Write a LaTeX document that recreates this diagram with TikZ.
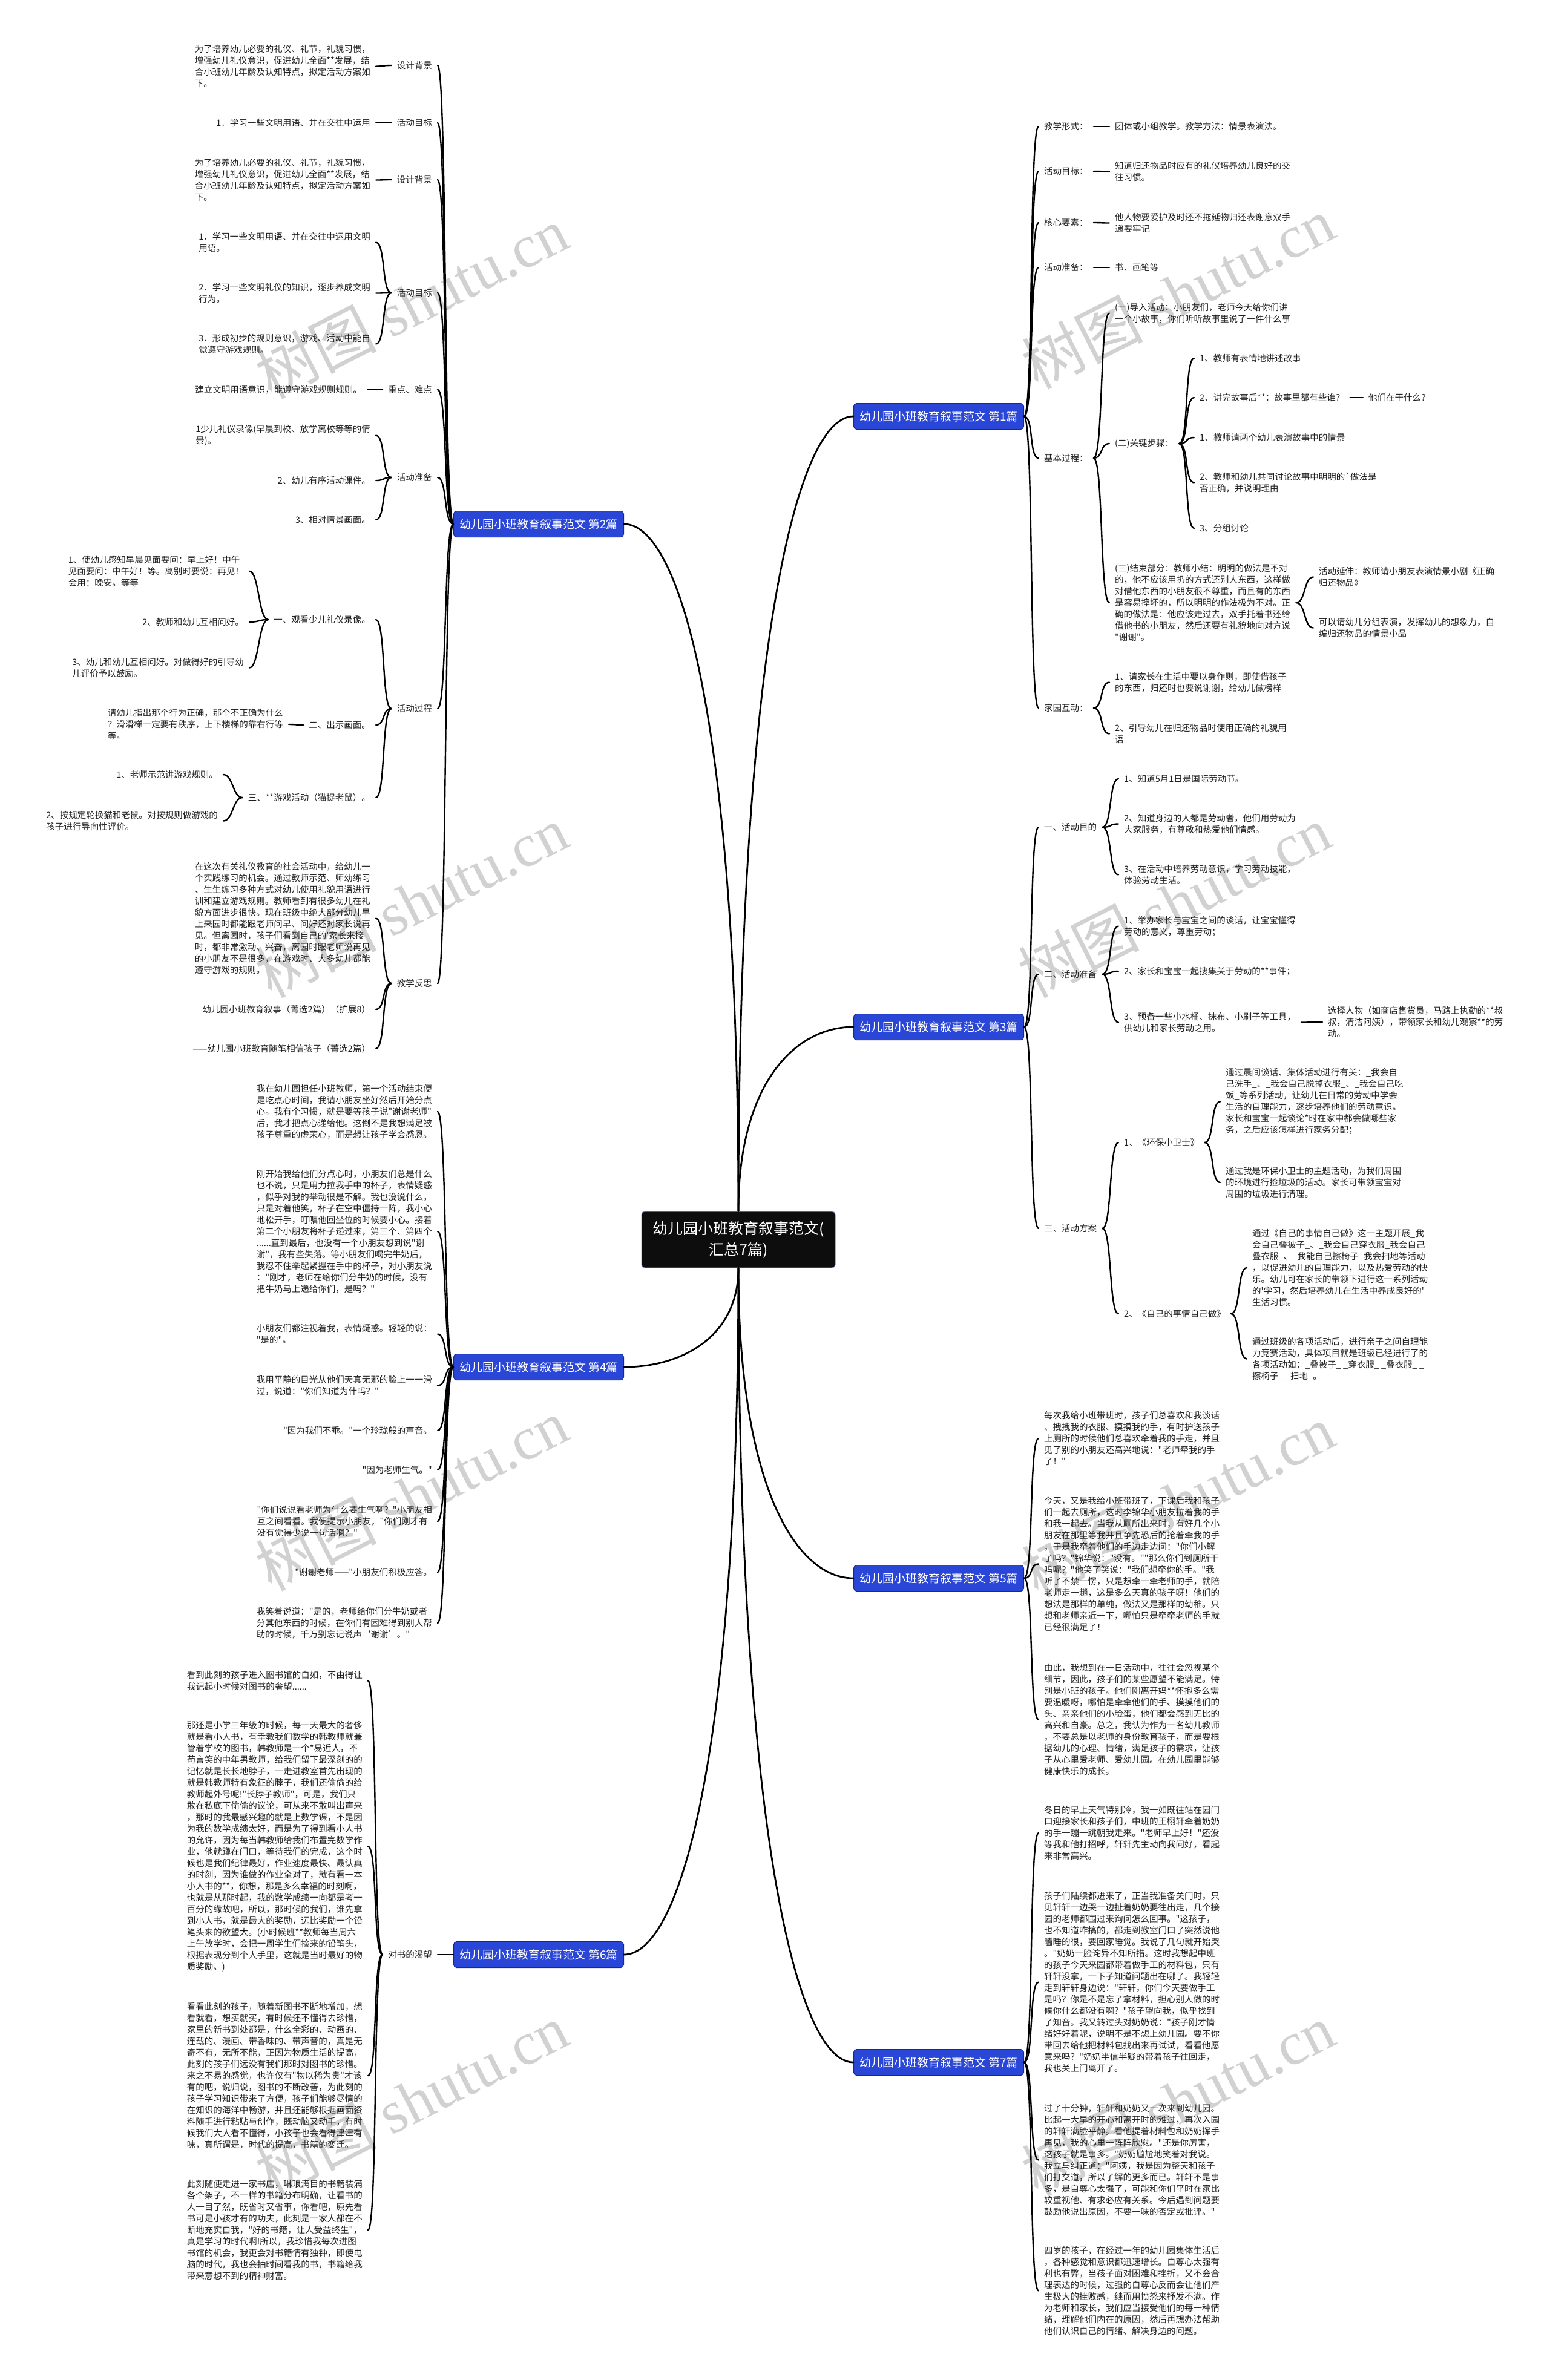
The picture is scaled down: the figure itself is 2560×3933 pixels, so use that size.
\documentclass[tikz,border=0pt]{standalone}
\usepackage{fontspec}
\usetikzlibrary{calc}
\newfontfamily\cjkf{Noto Sans CJK SC}
\newfontfamily\wmlatin{Liberation Serif}
\definecolor{boxblue}{HTML}{2A46D6}
\newcommand\lcon[2]{\draw[lk] (#1.west) .. controls +(-16,0) and +(16,0) .. (#2.east);}
\newcommand\rcon[2]{\draw[lk] (#1.east) .. controls +(16,0) and +(-16,0) .. (#2.west);}
\newcommand\rootcon[2]{\draw[lk, line width=2.8pt] (#1) .. controls ($(#1)!0.7!(#1 |- #2)$) and ($(#2)!0.5!(#1 |- #2)$) .. (#2);}
\begin{document}
\begin{tikzpicture}[x=1pt,y=-1pt,
  txt/.style={font={\cjkf\fontsize{14.5}{19}\selectfont}, align=left, inner xsep=9pt, inner ysep=0pt, text=black!88},
  lt/.style={txt, anchor=east},
  rt/.style={txt, anchor=west},
  box/.style={fill=boxblue, draw=boxblue!60!black, line width=1pt, rounded corners=5pt, text=white, font={\cjkf\fontsize{19}{22}\selectfont}, minimum width=281pt, minimum height=43pt, inner sep=0pt},
  root/.style={fill=black!95, draw=boxblue!60!white, line width=1pt, rounded corners=5pt, text=white, font={\cjkf\fontsize{25}{35}\selectfont}, align=center, minimum width=320pt, minimum height=93pt, inner sep=0pt},
  lk/.style={line width=2.4pt, line cap=round, black},
  wm/.style={text=black!18, font={\cjkf\fontsize{100}{100}\selectfont}, rotate=27, inner sep=0pt}
]
\useasboundingbox (0,0) rectangle (2560,3933);
\fill[white] (0,0) rectangle (2560,3933);

% watermarks
\foreach \i/\wx/\wy in {1/680/500,2/1946/484,3/680/1490,4/1940/1490,5/680/2470,6/1946/2480,7/680/3470,8/1946/3470}
  \node[wm] (wm\i) at (\wx,\wy) {树图 {\wmlatin shutu.cn}};

% root and branches
\node[root] (rt) at (1220,2048.5) {幼儿园小班教育叙事范文(\\汇总7篇)};
\node[box] (b1) at (1551,688) {幼儿园小班教育叙事范文 第1篇};
\node[box] (b2) at (890,866) {幼儿园小班教育叙事范文 第2篇};
\node[box] (b3) at (1551,1697) {幼儿园小班教育叙事范文 第3篇};
\node[box] (b4) at (890,2259) {幼儿园小班教育叙事范文 第4篇};
\node[box] (b5) at (1551,2608) {幼儿园小班教育叙事范文 第5篇};
\node[box] (b6) at (890,3230) {幼儿园小班教育叙事范文 第6篇};
\node[box] (b7) at (1551,3408) {幼儿园小班教育叙事范文 第7篇};
\rootcon{rt.north}{b1.west}
\rootcon{rt.north}{b2.east}
\rootcon{rt.north}{b3.west}
\rootcon{rt.south}{b4.east}
\rootcon{rt.south}{b5.west}
\rootcon{rt.south}{b6.east}
\rootcon{rt.south}{b7.west}

% ===== 第2篇 =====
\node[lt] (a1) at (723,108) {设计背景};
\node[lt] (a2) at (723,203) {活动目标};
\node[lt] (a3) at (723,297) {设计背景};
\node[lt] (a4) at (723,484) {活动目标};
\node[lt] (a5) at (723,644) {重点、难点};
\node[lt] (a6) at (723,789) {活动准备};
\node[lt] (a7) at (723,1171) {活动过程};
\node[lt] (a8) at (723,1625) {教学反思};
\foreach \n in {a1,a2,a3,a4,a5,a6,a7,a8} {\lcon{b2}{\n}}

\node[lt] (a1c) at (621,109.5) {为了培养幼儿必要的礼仪、礼节，礼貌习惯，\\增强幼儿礼仪意识，促进幼儿全面**发展，结\\合小班幼儿年龄及认知特点，拟定活动方案如\\下。};
\node[lt] (a2c) at (621,203) {1．学习一些文明用语、并在交往中运用};
\node[lt] (a3c) at (621,297.5) {为了培养幼儿必要的礼仪、礼节，礼貌习惯，\\增强幼儿礼仪意识，促进幼儿全面**发展，结\\合小班幼儿年龄及认知特点，拟定活动方案如\\下。};
\node[lt] (a4c1) at (621,400.5) {1．学习一些文明用语、并在交往中运用文明\\用语。};
\node[lt] (a4c2) at (621,484.5) {2．学习一些文明礼仪的知识，逐步养成文明\\行为。};
\node[lt] (a4c3) at (621,568.5) {3．形成初步的规则意识，游戏、活动中能自\\觉遵守游戏规则。};
\node[lt] (a5c) at (607,644) {建立文明用语意识，能遵守游戏规则规则。};
\node[lt] (a6c1) at (621,719.5) {1少儿礼仪录像(早晨到校、放学离校等等的情\\景)。};
\node[lt] (a6c2) at (621,794) {2、幼儿有序活动课件。};
\node[lt] (a6c3) at (621,859) {3、相对情景画面。};
\node[lt] (a7c1) at (621,1024) {一、观看少儿礼仪录像。};
\node[lt] (a7c1a) at (412,944) {1、使幼儿感知早晨见面要问：早上好！中午\\见面要问：中午好！等。离别时要说：再见！\\会用：晚安。等等};
\node[lt] (a7c1b) at (412,1028) {2、教师和幼儿互相问好。};
\node[lt] (a7c1c) at (412,1103.5) {3、幼儿和幼儿互相问好。对做得好的引导幼\\儿评价予以鼓励。};
\node[lt] (a7c2) at (621,1198) {二、出示画面。};
\node[lt] (a7c2a) at (477,1197) {请幼儿指出那个行为正确，那个不正确为什么\\？滑滑梯一定要有秩序，上下楼梯的靠右行等\\等。};
\node[lt] (a7c3) at (621,1318) {三、**游戏活动（猫捉老鼠）。};
\node[lt] (a7c3a) at (369,1280) {1、老师示范讲游戏规则。};
\node[lt] (a7c3b) at (369,1356.5) {2、按规定轮换猫和老鼠。对按规则做游戏的\\孩子进行导向性评价。};
\node[lt] (a8c1) at (621,1517.5) {在这次有关礼仪教育的社会活动中，给幼儿一\\个实践练习的机会。通过教师示范、师幼练习\\、生生练习多种方式对幼儿使用礼貌用语进行\\训和建立游戏规则。教师看到有很多幼儿在礼\\貌方面进步很快。现在班级中绝大部分幼儿早\\上来园时都能跟老师问早、问好还对家长说再\\见。但离园时，孩子们看到自己的'家长来接\\时，都非常激动、兴奋，离园时跟老师说再见\\的小朋友不是很多，在游戏时、大多幼儿都能\\遵守游戏的规则。};
\node[lt] (a8c2) at (621,1668) {幼儿园小班教育叙事（菁选2篇）（扩展8）};
\node[lt] (a8c3) at (621,1733) {——幼儿园小班教育随笔相信孩子（菁选2篇）};

\lcon{a1}{a1c} \lcon{a2}{a2c} \lcon{a3}{a3c}
\lcon{a4}{a4c1} \lcon{a4}{a4c2} \lcon{a4}{a4c3}
\lcon{a5}{a5c}
\lcon{a6}{a6c1} \lcon{a6}{a6c2} \lcon{a6}{a6c3}
\lcon{a7}{a7c1} \lcon{a7}{a7c2} \lcon{a7}{a7c3}
\lcon{a7c1}{a7c1a} \lcon{a7c1}{a7c1b} \lcon{a7c1}{a7c1c}
\lcon{a7c2}{a7c2a}
\lcon{a7c3}{a7c3a} \lcon{a7c3}{a7c3b}
\lcon{a8}{a8c1} \lcon{a8}{a8c2} \lcon{a8}{a8c3}

% ===== 第4篇 =====
\node[lt] (m1) at (723,1837) {我在幼儿园担任小班教师，第一个活动结束便\\是吃点心时间，我请小朋友坐好然后开始分点\\心。我有个习惯，就是要等孩子说"谢谢老师"\\后，我才把点心递给他。这倒不是我想满足被\\孩子尊重的虚荣心，而是想让孩子学会感恩。};
\node[lt] (m2) at (723,2035) {刚开始我给他们分点心时，小朋友们总是什么\\也不说，只是用力拉我手中的杯子，表情疑惑\\，似乎对我的举动很是不解。我也没说什么，\\只是对着他笑，杯子在空中僵持一阵，我小心\\地松开手，叮嘱他回坐位的时候要小心。接着\\第二个小朋友将杯子递过来，第三个、第四个\\......直到最后，也没有一个小朋友想到说"谢\\谢"，我有些失落。等小朋友们喝完牛奶后，\\我忍不住举起紧握在手中的杯子，对小朋友说\\："刚才，老师在给你们分牛奶的时候，没有\\把牛奶马上递给你们，是吗？"};
\node[lt] (m3) at (723,2204.5) {小朋友们都注视着我，表情疑惑。轻轻的说：\\"是的"。};
\node[lt] (m4) at (723,2289.5) {我用平静的目光从他们天真无邪的脸上一一滑\\过，说道："你们知道为什吗？"};
\node[lt] (m5) at (723,2364) {"因为我们不乖。"一个玲珑般的声音。};
\node[lt] (m6) at (723,2429) {"因为老师生气。"};
\node[lt] (m7) at (723,2514) {"你们说说看老师为什么要生气啊？"小朋友相\\互之间看看。我便提示小朋友，"你们刚才有\\没有觉得少说一句话啊？"};
\node[lt] (m8) at (723,2598) {"谢谢老师——"小朋友们积极应答。};
\node[lt] (m9) at (723,2682) {我笑着说道："是的，老师给你们分牛奶或者\\分其他东西的时候，在你们有困难得到别人帮\\助的时候，千万别忘记说声‘谢谢’。"};
\foreach \n in {m1,m2,m3,m4,m5,m6,m7,m8,m9} {\lcon{b4}{\n}}

% ===== 第6篇 =====
\node[lt] (n0) at (723,3230) {对书的渴望};
\lcon{b6}{n0}
\node[lt] (n1) at (608,2777.5) {看到此刻的孩子进入图书馆的自如，不由得让\\我记起小时候对图书的奢望......};
\node[lt] (n2) at (608,3051.5) {那还是小学三年级的时候，每一天最大的奢侈\\就是看小人书，有幸教我们数学的韩教师就兼\\管着学校的图书，韩教师是一个*易近人，不\\苟言笑的中年男教师，给我们留下最深刻的的\\记忆就是长长地脖子，一走进教室首先出现的\\就是韩教师特有象征的脖子，我们还偷偷的给\\教师起外号呢!"长脖子教师"，可是，我们只\\敢在私底下偷偷的议论，可从来不敢叫出声来\\，那时的我最感兴趣的就是上数学课，不是因\\为我的数学成绩太好，而是为了得到看小人书\\的允许，因为每当韩教师给我们布置完数学作\\业，他就蹲在门口，等待我们的完成，这个时\\候也是我们纪律最好，作业速度最快、最认真\\的时刻，因为谁做的作业全对了，就有看一本\\小人书的**，你想，那是多么幸福的时刻啊，\\也就是从那时起，我的数学成绩一向都是考一\\百分的缘故吧，所以，那时候的我们，谁先拿\\到小人书，就是最大的奖励，远比奖励一个铅\\笔头来的欲望大。(小时候班**教师每当周六\\上午放学时，会把一周学生们捡来的铅笔头，\\根据表现分到个人手里，这就是当时最好的物\\质奖励。)};
\node[lt] (n3) at (608,3430) {看看此刻的孩子，随着新图书不断地增加，想\\看就看，想买就买，有时候还不懂得去珍惜，\\家里的新书到处都是，什么全彩的、动画的、\\连载的、漫画、带香味的、带声音的，真是无\\奇不有，无所不能，正因为物质生活的提高，\\此刻的孩子们远没有我们那时对图书的珍惜。\\来之不易的感觉，也许仅有"物以稀为贵"才该\\有的吧，说归说，图书的不断改善，为此刻的\\孩子学习知识带来了方便，孩子们能够尽情的\\在知识的海洋中畅游，并且还能够根据画面资\\料随手进行粘贴与创作，既动脑又动手，有时\\候我们大人看不懂得，小孩子也会看得津津有\\味，真所谓是，时代的提高，书籍的变迁。};
\node[lt] (n4) at (608,3685) {此刻随便走进一家书店，琳琅满目的书籍装满\\各个架子，不一样的书籍分布明确，让看书的\\人一目了然，既省时又省事，你看吧，原先看\\书可是小孩才有的功夫，此刻是一家人都在不\\断地充实自我，"好的书籍，让人受益终生"，\\真是学习的时代啊!所以，我珍惜我每次进图\\书馆的机会，我更会对书籍情有独钟，即使电\\脑的时代，我也会抽时间看我的书，书籍给我\\带来意想不到的精神财富。};
\foreach \n in {n1,n2,n3,n4} {\lcon{n0}{\n}}

% ===== 第1篇 =====
\node[rt] (p1) at (1716,209) {教学形式：};
\node[rt] (p2) at (1716,283) {活动目标：};
\node[rt] (p3) at (1716,368) {核心要素：};
\node[rt] (p4) at (1716,442) {活动准备：};
\node[rt] (p5) at (1716,757) {基本过程：};
\node[rt] (p6) at (1716,1170) {家园互动：};
\foreach \n in {p1,p2,p3,p4,p5,p6} {\rcon{b1}{\n}}
\node[rt] (p1c) at (1833,209) {团体或小组教学。教学方法：情景表演法。};
\node[rt] (p2c) at (1833,283.5) {知道归还物品时应有的礼仪培养幼儿良好的交\\往习惯。};
\node[rt] (p3c) at (1833,368.5) {他人物要爱护及时还不拖延物归还表谢意双手\\递要牢记};
\node[rt] (p4c) at (1833,442) {书、画笔等};
\node[rt] (p5a) at (1833,517.5) {(一)导入活动：小朋友们，老师今天给你们讲\\一个小故事，你们听听故事里说了一件什么事};
\node[rt] (p5b) at (1833,733) {(二)关键步骤：};
\node[rt] (p5c) at (1833,996) {(三)结束部分：教师小结：明明的做法是不对\\的，他不应该用扔的方式还别人东西，这样做\\对借他东西的小朋友很不尊重，而且有的东西\\是容易摔坏的，所以明明的作法极为不对。正\\确的做法是：他应该走过去，双手托着书还给\\借他书的小朋友，然后还要有礼貌地向对方说\\"谢谢"。};
\node[rt] (p6a) at (1833,1127.5) {1、请家长在生活中要以身作则，即使借孩子\\的东西，归还时也要说谢谢，给幼儿做榜样};
\node[rt] (p6b) at (1833,1212.5) {2、引导幼儿在归还物品时使用正确的礼貌用\\语};
\rcon{p1}{p1c} \rcon{p2}{p2c} \rcon{p3}{p3c} \rcon{p4}{p4c}
\rcon{p5}{p5a} \rcon{p5}{p5b} \rcon{p5}{p5c}
\rcon{p6}{p6a} \rcon{p6}{p6b}
\node[rt] (t1) at (1973,592) {1、教师有表情地讲述故事};
\node[rt] (t2) at (1973,657) {2、讲完故事后**：故事里都有些谁？};
\node[rt] (t3) at (1973,723) {1、教师请两个幼儿表演故事中的情景};
\node[rt] (t4) at (1973,797.5) {2、教师和幼儿共同讨论故事中明明的`做法是\\否正确，并说明理由};
\node[rt] (t5) at (1973,873) {3、分组讨论};
\node[rt] (t2a) at (2252,657) {他们在干什么？};
\foreach \n in {t1,t2,t3,t4,t5} {\rcon{p5b}{\n}}
\rcon{t2}{t2a}
\node[rt] (u1) at (2170,953.5) {活动延伸：教师请小朋友表演情景小剧《正确\\归还物品》};
\node[rt] (u2) at (2170,1037.5) {可以请幼儿分组表演，发挥幼儿的想象力，自\\编归还物品的情景小品};
\rcon{p5c}{u1} \rcon{p5c}{u2}

% ===== 第3篇 =====
\node[rt] (q1) at (1716,1367) {一、活动目的};
\node[rt] (q2) at (1716,1610) {二、活动准备};
\node[rt] (q3) at (1716,2030) {三、活动方案};
\foreach \n in {q1,q2,q3} {\rcon{b3}{\n}}
\node[rt] (q1a) at (1848,1287) {1、知道5月1日是国际劳动节。};
\node[rt] (q1b) at (1848,1361.5) {2、知道身边的人都是劳动者，他们用劳动为\\大家服务，有尊敬和热爱他们情感。};
\node[rt] (q1c) at (1848,1445.5) {3、在活动中培养劳动意识，学习劳动技能，\\体验劳动生活。};
\foreach \n in {q1a,q1b,q1c} {\rcon{q1}{\n}}
\node[rt] (q2a) at (1848,1530.5) {1、举办家长与宝宝之间的谈话，让宝宝懂得\\劳动的意义，尊重劳动；};
\node[rt] (q2b) at (1848,1605) {2、家长和宝宝一起搜集关于劳动的**事件；};
\node[rt] (q2c) at (1848,1689.5) {3、预备一些小水桶、抹布、小刷子等工具，\\供幼儿和家长劳动之用。};
\foreach \n in {q2a,q2b,q2c} {\rcon{q2}{\n}}
\node[rt] (q2d) at (2185,1689) {选择人物（如商店售货员，马路上执勤的**叔\\叔，清洁阿姨），带领家长和幼儿观察**的劳\\动。};
\rcon{q2c}{q2d}
\node[rt] (q3a) at (1848,1888) {1、《环保小卫士》};
\node[rt] (q3b) at (1848,2171) {2、《自己的事情自己做》};
\rcon{q3}{q3a} \rcon{q3}{q3b}
\node[rt] (q3a1) at (2016,1820.5) {通过晨间谈话、集体活动进行有关：\_我会自\\己洗手\_、\_我会自己脱掉衣服\_、\_我会自己吃\\饭\_等系列活动，让幼儿在日常的劳动中学会\\生活的自理能力，逐步培养他们的劳动意识。\\家长和宝宝一起谈论*时在家中都会做哪些家\\务，之后应该怎样进行家务分配；};
\node[rt] (q3a2) at (2016,1954) {通过我是环保小卫士的主题活动，为我们周围\\的环境进行捡垃圾的活动。家长可带领宝宝对\\周围的垃圾进行清理。};
\rcon{q3a}{q3a1} \rcon{q3a}{q3a2}
\node[rt] (q3b1) at (2060,2095) {通过《自己的事情自己做》这一主题开展\_我\\会自己叠被子\_、\_我会自己穿衣服\_我会自己\\叠衣服\_、\_我能自己擦椅子\_我会扫地等活动\\，以促进幼儿的自理能力，以及热爱劳动的快\\乐。幼儿可在家长的带领下进行这一系列活动\\的'学习，然后培养幼儿在生活中养成良好的'\\生活习惯。};
\node[rt] (q3b2) at (2060,2245.5) {通过班级的各项活动后，进行亲子之间自理能\\力竞赛活动，具体项目就是班级已经进行了的\\各项活动如：\_叠被子\_ \_穿衣服\_ \_叠衣服\_ \_\\擦椅子\_ \_扫地\_。};
\rcon{q3b}{q3b1} \rcon{q3b}{q3b2}

% ===== 第5篇 =====
\node[rt] (w1) at (1716,2377) {每次我给小班带班时，孩子们总喜欢和我谈话\\、拽拽我的衣服、摸摸我的手，有时护送孩子\\上厕所的时候他们总喜欢牵着我的手走，并且\\见了别的小朋友还高兴地说："老师牵我的手\\了！"};
\node[rt] (w2) at (1716,2584.5) {今天，又是我给小班带班了，下课后我和孩子\\们一起去厕所，这时李锦华小朋友拉着我的手\\和我一起去。当我从厕所出来时，有好几个小\\朋友在那里等我并且争先恐后的抢着牵我的手\\，于是我牵着他们的手边走边问："你们小解\\了吗？"锦华说："没有。""那么你们到厕所干\\吗呢？"他笑了笑说："我们想牵你的手。"我\\听了不禁一愣，只是想牵一牵老师的手，就陪\\老师走一趟，这是多么天真的孩子呀！他们的\\想法是那样的单纯，做法又是那样的幼稚。只\\想和老师亲近一下，哪怕只是牵牵老师的手就\\已经很满足了！};
\node[rt] (w3) at (1716,2841.5) {由此，我想到在一日活动中，往往会忽视某个\\细节，因此，孩子们的某些愿望不能满足。特\\别是小班的孩子。他们刚离开妈**怀抱多么需\\要温暖呀，哪怕是牵牵他们的手、摸摸他们的\\头、亲亲他们的小脸蛋，他们都会感到无比的\\高兴和自豪。总之，我认为作为一名幼儿教师\\，不要总是以老师的身份教育孩子，而是要根\\据幼儿的心理、情绪，满足孩子的需求，让孩\\子从心里爱老师、爱幼儿园。在幼儿园里能够\\健康快乐的成长。};
\foreach \n in {w1,w2,w3} {\rcon{b5}{\n}}

% ===== 第7篇 =====
\node[rt] (x1) at (1716,3029) {冬日的早上天气特别冷，我一如既往站在园门\\口迎接家长和孩子们，中班的王栩轩牵着奶奶\\的手一蹦一跳朝我走来。"老师早上好！"还没\\等我和他打招呼，轩轩先主动向我问好，看起\\来非常高兴。};
\node[rt] (x2) at (1716,3275.5) {孩子们陆续都进来了，正当我准备关门时，只\\见轩轩一边哭一边扯着奶奶要往出走，几个接\\园的老师都围过来询问怎么回事。"这孩子，\\也不知道咋搞的，都走到教室门口了突然说他\\瞌睡的很，要回家睡觉。我说了几句就开始哭\\。"奶奶一脸诧异不知所措。这时我想起中班\\的孩子今天来园都带着做手工的材料包，只有\\轩轩没拿，一下子知道问题出在哪了。我轻轻\\走到轩轩身边说："轩轩，你们今天要做手工\\是吗？你是不是忘了拿材料，担心别人做的时\\候你什么都没有啊？"孩子望向我，似乎找到\\了知音。我又转过头对奶奶说："孩子刚才情\\绪好好着呢，说明不是不想上幼儿园。要不你\\带回去给他把材料包找出来再试试，看看他愿\\意来吗？"奶奶半信半疑的带着孩子往回走，\\我也关上门离开了。};
\node[rt] (x3) at (1716,3569.5) {过了十分钟，轩轩和奶奶又一次来到幼儿园。\\比起一大早的开心和离开时的难过，再次入园\\的轩轩满脸平静。看他提着材料包和奶奶挥手\\再见，我的心里一阵阵欣慰。"还是你厉害，\\这孩子就是事多。"奶奶尴尬地笑着对我说。\\我立马纠正道："阿姨，我是因为整天和孩子\\们打交道，所以了解的更多而已。轩轩不是事\\多，是自尊心太强了，可能和你们平时在家比\\较重视他、有求必应有关系。今后遇到问题要\\鼓励他说出原因，不要一味的否定或批评。"};
\node[rt] (x4) at (1716,3785.5) {四岁的孩子，在经过一年的幼儿园集体生活后\\，各种感觉和意识都迅速增长。自尊心太强有\\利也有弊，当孩子面对困难和挫折，又不会合\\理表达的时候，过强的自尊心反而会让他们产\\生极大的挫败感，继而用愤怒来抒发不满。作\\为老师和家长，我们应当接受他们的每一种情\\绪，理解他们内在的原因，然后再想办法帮助\\他们认识自己的情绪、解决身边的问题。};
\foreach \n in {x1,x2,x3,x4} {\rcon{b7}{\n}}
\end{tikzpicture}
\end{document}
